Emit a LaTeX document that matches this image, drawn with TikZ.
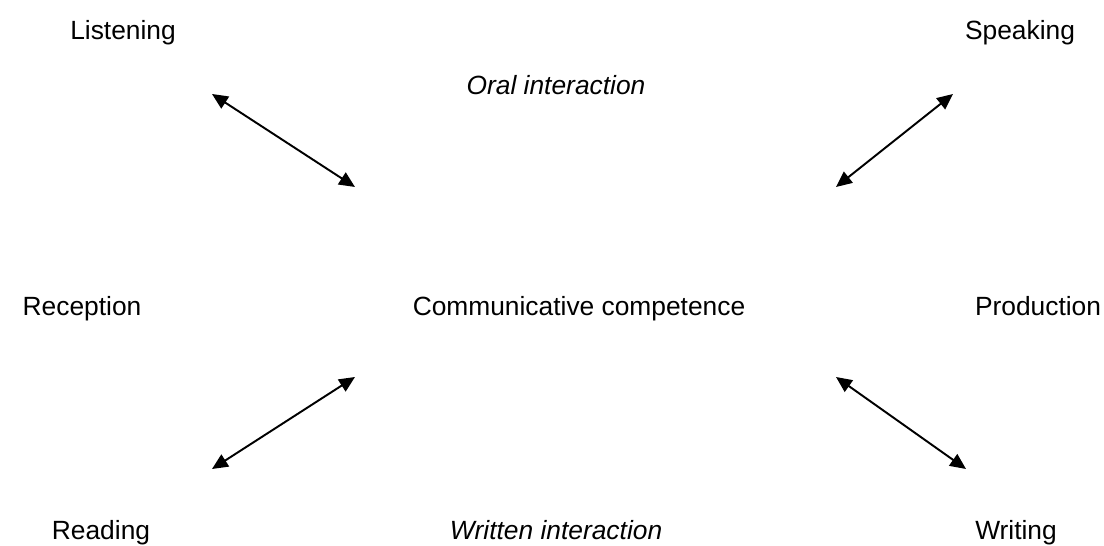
\documentclass[tikz,border=0pt]{standalone}
\usepackage{fontspec}
\setmainfont{Liberation Sans}
\usepackage{tikz}
\usetikzlibrary{arrows.meta}

\begin{document}
\begin{tikzpicture}
[every node/.style={font=\fontsize{15}{18}\selectfont},x=0.02cm,y=-0.02cm,
  bothways/.style = {{Triangle[length=9pt,width=8pt]}-{Triangle[length=9pt,width=8pt]},line width=1.1pt},
  skill/.style = {inner sep=0pt,anchor=base},
  mode/.style = {inner sep=0pt,anchor=base,font=\fontsize{15}{18}\selectfont\itshape}]
\useasboundingbox (0,0) rectangle (1104,546);

\node[skill] (L) at (123,40) {Listening};
\node[skill] (S) at (1020,40) {Speaking};
\node[mode] (OI) at (556,95) {Oral interaction};
\node[skill] (REC) at (82,316) {Reception};
\node[skill] (CC) at (579,316) {Communicative competence};
\node[skill] (PROD) at (1038,316) {Production};
\node[skill] (R) at (101,539) {Reading};
\node[mode] (WI) at (556,539) {Written interaction};
\node[skill] (W) at (1016,539) {Writing};
%
\coordinate (L1) at (212,94);
\coordinate (L2) at (355,187);
\coordinate (S1) at (953,94);
\coordinate (S2) at (836,187);
\coordinate (R1) at (212,469);
\coordinate (R2) at (355,377);
\coordinate (W1) at (966,469);
\coordinate (W2) at (836,377);
%
   \draw[bothways] (L1) -- (L2);
   \draw[bothways] (S1) -- (S2);
   \draw[bothways] (R1) -- (R2);
   \draw[bothways] (W1) -- (W2);
\end{tikzpicture}
\end{document}
